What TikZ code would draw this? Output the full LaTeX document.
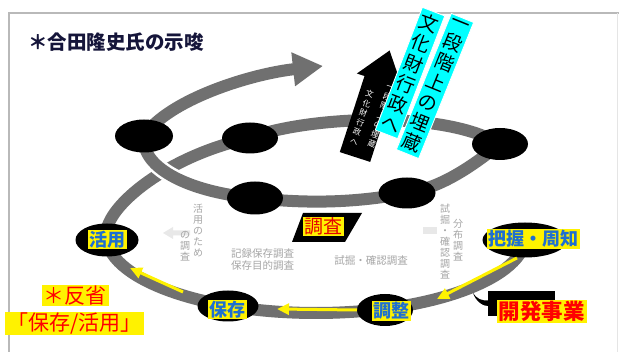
\documentclass[tikz,border=0pt]{standalone}
\usepackage{fontspec}
\setmainfont{Noto Sans CJK JP}
\usetikzlibrary{shapes.geometric,arrows.meta}
\definecolor{bandgray}{HTML}{707070}
\definecolor{lblue}{HTML}{1E6FD0}
\definecolor{ttl}{HTML}{15153A}
\definecolor{lred}{HTML}{FF0000}
\definecolor{cyanlbl}{HTML}{00FFFF}
\begin{document}
\begin{tikzpicture}[x=1pt,y=-1pt,
  bandline/.style={draw=bandgray, line width=12pt},
  dot/.style={ellipse, fill=black, inner sep=0pt},
  lbl/.style={fill=yellow, text=lblue, font=\bfseries\fontsize{18}{20}\selectfont, inner xsep=1.5pt, inner ysep=1pt},
  redlbl/.style={fill=yellow, text=lred, font=\fontsize{21}{23}\selectfont, inner xsep=2pt, inner ysep=1pt},
  cyanbox/.style={fill=cyanlbl, draw=white, line width=0.8pt, text=black, align=center, font=\fontsize{19}{21.5}\selectfont, inner xsep=2.5pt, inner ysep=4pt},
  arrowtext/.style={text=white, align=center, font=\fontsize{8}{10}\selectfont, inner sep=0pt, anchor=north, rotate=-18},
  gtext/.style={text=gray!70, align=center, font=\fontsize{10.5}{12}\selectfont, inner sep=0pt},
  gvert/.style={text=gray!70, align=center, font=\fontsize{10}{11}\selectfont, inner sep=0pt},
  yarrow/.style={draw=yellow, line width=3pt, -{Triangle[length=12pt,width=11pt]}}
]
\useasboundingbox (0,0) rectangle (619,352);
\fill[white] (0,0) rectangle (619,352);
% frame
\draw[gray!55, line width=1.3pt] (9,352) -- (9,13) -- (619,13);
\draw[gray!20, line width=1pt] (617,13) -- (617,352);

% title
\node[anchor=west, text=ttl, font=\bfseries\fontsize{19.5}{21}\selectfont, inner sep=0pt] (title) at (28,42) {＊合田隆史氏の示唆};

% positions
\coordinate (pH) at (525,240);
\coordinate (pC) at (385,310);
\coordinate (pS) at (228,306);
\coordinate (pK) at (107,240);
\coordinate (m1) at (144,136);
\coordinate (m2) at (250,138);
\coordinate (m3) at (500,144);
\coordinate (m4) at (407,193);
\coordinate (m5) at (255,198);
\coordinate (tip) at (323,66);

% faint background marks
\fill[gray!18] (163,233) -- (173,227) -- (173,230.5) -- (190,230.5) -- (190,235.5) -- (173,235.5) -- (173,239) -- cycle;
\fill[gray!18] (423,227) rectangle (437,234);

% spiral band
\draw[bandline, line join=round] (526,235) .. controls (526,278) and (432,313) .. (316,313)
  .. controls (200,313) and (106,278) .. (106,235)
  .. controls (106,205) and (170,155) .. (m2)
  .. controls (300,118) and (440,108) .. (m3)
  .. controls (470,168) and (440,188) .. (m4)
  .. controls (350,204) and (300,203) .. (m5);
\draw[white, line width=17pt] (m5) .. controls (195,193) and (140,170) .. (m1);
\draw[bandline] (m5) .. controls (195,193) and (140,170) .. (m1);
\draw[bandline, -{Triangle[length=30pt,width=32pt]}] (m1) .. controls (168,100) and (250,74) .. (tip);

% black upward arrow (tilted 18 degrees)
\fill[black] (339.8,152.1) -- (364.5,76.0) -- (356.9,73.5) -- (389.6,50.5) -- (402.5,88.3) -- (394.9,85.8) -- (370.2,161.9) -- cycle;
\node[arrowtext] (ar1) at (370.8,90.6) {文\\化\\財\\行\\政\\へ};
\node[arrowtext] (ar2) at (390.5,86.5) {一\\段\\階\\上\\の\\埋\\蔵};

% cyan labels
\node[cyanbox, rotate=-21] (c1) at (410,73) {文\\化\\財\\行\\政\\へ};
\node[cyanbox, rotate=-22] (c2) at (435,86) {一\\段\\階\\上\\の\\埋\\蔵};

% ellipses
\node[dot, minimum width=58pt, minimum height=33pt] (e1) at (m1) {};
\node[dot, minimum width=56pt, minimum height=31pt] (e2) at (m2) {};
\node[dot, minimum width=56pt, minimum height=32pt] (e3) at (m3) {};
\node[dot, minimum width=57pt, minimum height=31pt] (e4) at (m4) {};
\node[dot, minimum width=56pt, minimum height=33pt] (e5) at (m5) {};
\node[dot, minimum width=63pt, minimum height=33pt] (eK) at (pK) {};
\node[dot, minimum width=61pt, minimum height=31pt] (eS) at (pS) {};
\node[dot, minimum width=56pt, minimum height=32pt] (eC) at (pC) {};
\node[dot, minimum width=85pt, minimum height=35pt] (eH) at (pH) {};

% yellow arrows
\coordinate (y1s) at (517,258); \coordinate (y1e) at (437,299);
\coordinate (y2s) at (357,310); \coordinate (y2e) at (277,309);
\coordinate (y3s) at (183,292); \coordinate (y3e) at (130,268);
\draw[yarrow] (y1s) -- (y1e);
\draw[yarrow] (y2s) -- (y2e);
\draw[yarrow] (y3s) -- (y3e);

% node labels
\node[lbl] (lK) at (107,239.5) {活用};
\node[lbl] (lS) at (227.5,309.5) {保存};
\node[lbl] (lC) at (391,311) {調整};
\node[lbl] (lH) at (533.5,239) {把握・周知};

% 調査
\fill[black] (303,213) -- (362,213) -- (345,242) -- (292,242) -- cycle;
\node[fill=yellow, text=red!90!black, font=\fontsize{19}{21}\selectfont, inner xsep=1.5pt, inner ysep=0.5pt] (chosa) at (323.5,226.5) {調査};

% 開発事業 callout
\node[fill=black, minimum width=67pt, minimum height=25pt, inner sep=0pt] (cb) at (521.5,303.5) {};
\fill[black] (490,300) .. controls (482,302) and (476,298) .. (473,293) .. controls (476,302) and (484,307) .. (490,306) -- cycle;
\node[redlbl, font=\bfseries\fontsize{21.5}{23}\selectfont] (kaihatsu) at (541.5,311.5) {開発事業};

% 反省
\node[redlbl] (hansei) at (75,295.5) {＊反省};
\node[redlbl] (hk) at (74.5,323.5) {「保存/活用」};

% small gray texts
\node[gtext] (g1) at (262.5,260) {記録保存調査\\保存目的調査};
\node[gtext] (g2) at (371,261) {試掘・確認調査};
\node[gvert, anchor=north] (g3) at (198,204) {活\\用\\の\\た\\め};
\node[gvert, anchor=north] (g4) at (185,231) {の\\調\\査};
\node[gvert, anchor=north] (g5) at (458,219) {分\\布\\調\\査};
\node[gvert, anchor=north] (g6) at (445,204) {試\\掘\\・\\確\\認\\調\\査};
\end{tikzpicture}
\end{document}
